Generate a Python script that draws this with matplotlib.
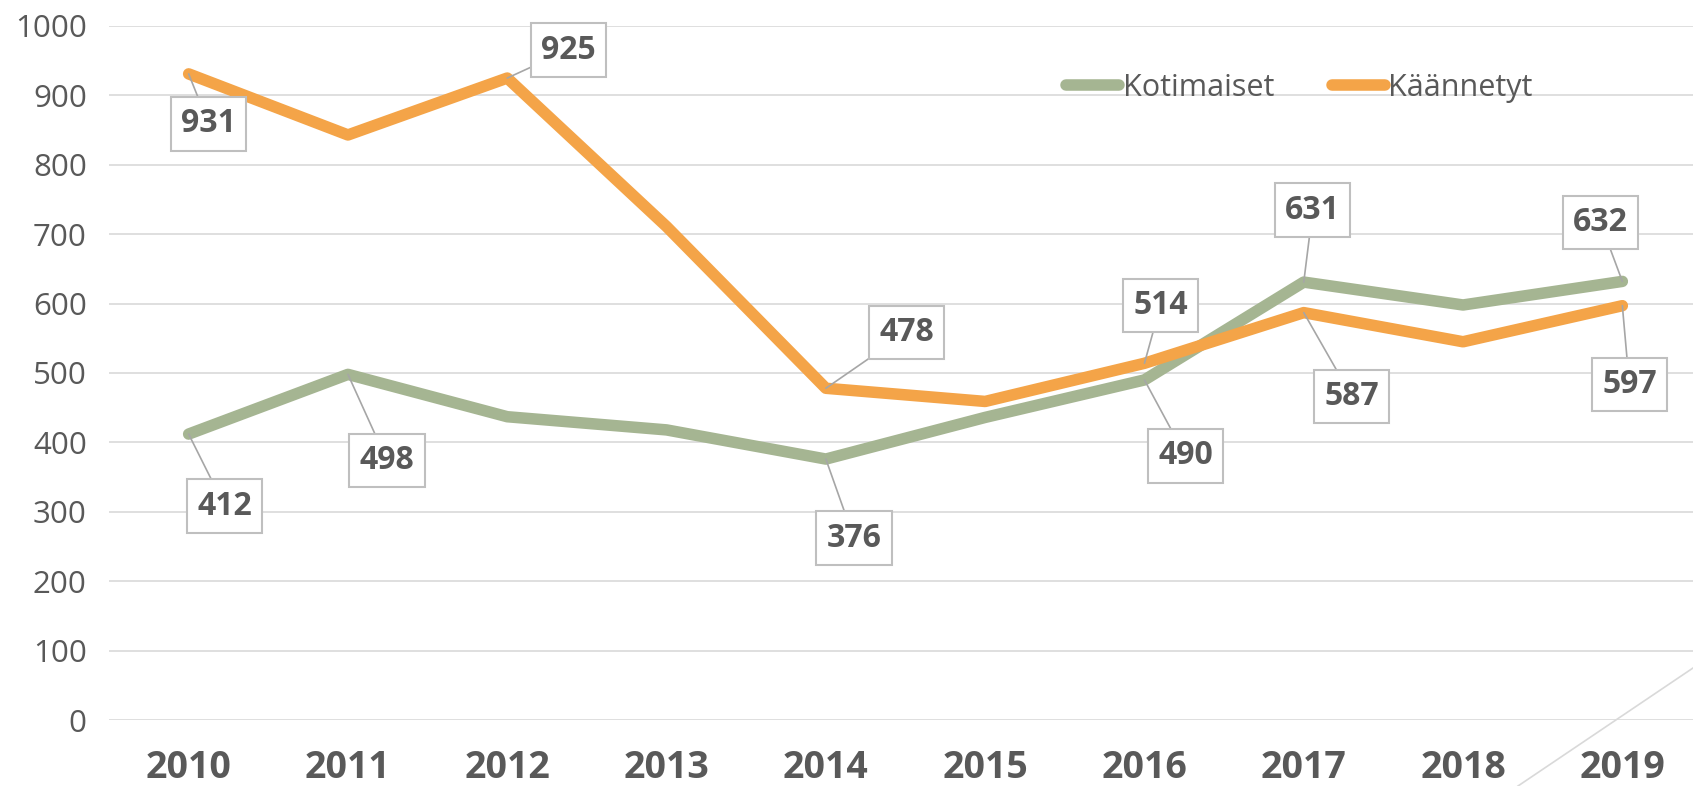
import matplotlib
matplotlib.use("Agg")
import matplotlib.pyplot as plt
from matplotlib.lines import Line2D

plt.rcParams['font.family'] = ['Open Sans', 'DejaVu Sans']

years = ['2010', '2011', '2012', '2013', '2014', '2015', '2016', '2017', '2018', '2019']
kotimaiset = [412, 498, 437, 418, 376, 436, 490, 631, 598, 632]
kaannetyt = [931, 843, 925, 711, 478, 459, 514, 587, 545, 597]

# labelled points: (index, offset in pixels)
koti_labels = [(0, (36, -72)), (1, (39, -86)), (4, (28, -79)), (6, (41, -76)),
               (7, (9, 72)), (9, (-22, 59))]
kaan_labels = [(0, (20, -50)), (2, (61, 28)), (4, (81, 56)), (6, (16, 58)),
               (7, (48, -84)), (9, (7, -79))]

GREEN = '#A5B592'
ORANGE = '#F4A448'
TXT = '#595959'
GRID = '#D9D9D9'

fig = plt.figure(figsize=(16.93, 7.86), dpi=100)
ax = fig.add_axes([109 / 1693, 1 - 720 / 786, 1593 / 1693, 694 / 786])

x = list(range(len(years)))
ax.plot(x, kotimaiset, color=GREEN, lw=8.3, solid_capstyle='round',
        solid_joinstyle='round', label='Kotimaiset', zorder=3)
ax.plot(x, kaannetyt, color=ORANGE, lw=8.3, solid_capstyle='round',
        solid_joinstyle='round', label='Käännetyt', zorder=3)

ax.set_xlim(-0.5, 9.5)
ax.set_ylim(0, 1000)
ax.set_yticks(range(0, 1001, 100))
ax.set_xticks(x)
ax.set_xticklabels(years)
ax.grid(axis='y', color=GRID, lw=1.2)
ax.set_axisbelow(True)
for s in ax.spines.values():
    s.set_visible(False)
ax.tick_params(axis='y', length=0, pad=16, labelsize=22.5, labelcolor=TXT)
ax.tick_params(axis='x', length=0, pad=21, labelsize=27, labelcolor=TXT)
for t in ax.get_xticklabels():
    t.set_fontweight('bold')


def put_labels(vals, items):
    for i, (dx, dy) in items:
        ax.annotate(str(vals[i]), (i, vals[i]), xytext=(dx, dy),
                    textcoords='offset pixels', ha='center', va='center',
                    fontsize=23, fontweight='bold', color=TXT, zorder=5,
                    bbox=dict(boxstyle='square,pad=0.32', fc='white',
                              ec='#BFBFBF', lw=1.5),
                    arrowprops=dict(arrowstyle='-', color='#A6A6A6', lw=1.2,
                                    shrinkA=0, shrinkB=0))


put_labels(kotimaiset, koti_labels)
put_labels(kaannetyt, kaan_labels)

leg = fig.legend(loc='center left', bbox_to_anchor=(1066 / 1693, 1 - 88 / 786),
                 ncol=2, frameon=False, fontsize=22, handlelength=1.75,
                 handletextpad=0.1, columnspacing=1.9, borderpad=0,
                 borderaxespad=0)
for t in leg.get_texts():
    t.set_color(TXT)

# thin diagonal line in lower right corner
fig.add_artist(Line2D([1518 / 1693, 1.0], [1 - 786 / 786, 1 - 668 / 786],
                      transform=fig.transFigure, color=GRID, lw=1.2))

fig.savefig('out.png', dpi=100)
